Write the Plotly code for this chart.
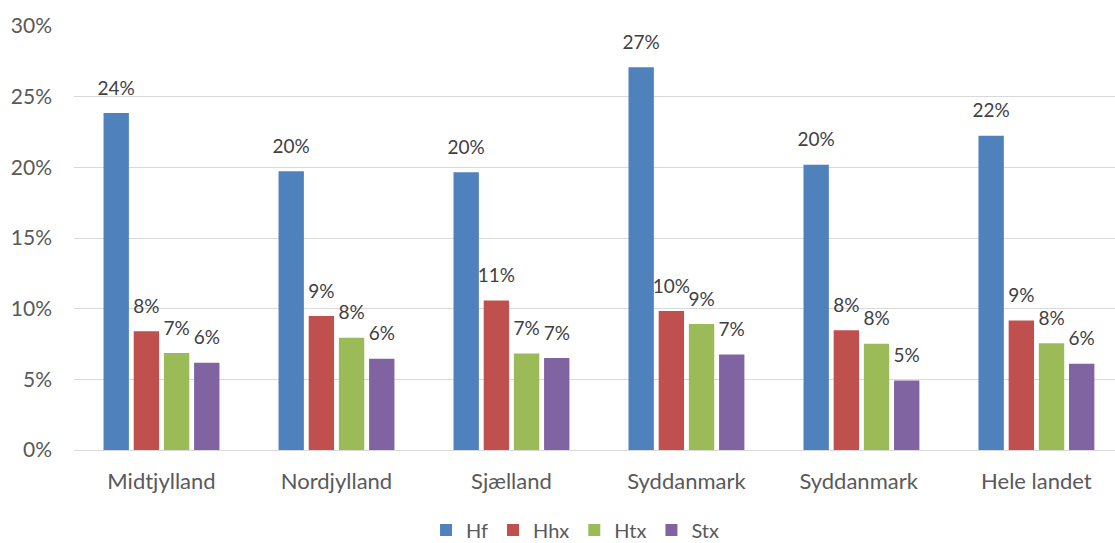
import plotly.graph_objects as go

categories = ["Midtjylland", "Nordjylland", "Sjælland", "Syddanmark", "Syddanmark ", "Hele landet"]
series_names = ["Hf", "Hhx", "Htx", "Stx"]
hf = [23.84, 19.72, 19.65, 27.08, 20.19, 22.24]
hhx = [8.40, 9.48, 10.57, 9.83, 8.47, 9.17]
htx = [6.86, 7.95, 6.82, 8.92, 7.52, 7.55]
stx = [6.18, 6.46, 6.51, 6.75, 4.91, 6.11]
colors = ["#4F81BD", "#C0504D", "#9BBB59", "#8064A2"]
y_ticks = [0, 5, 10, 15, 20, 25, 30]

values = [hf, hhx, htx, stx]
FONT = "Lato"
GAP = 0.31

fig = go.Figure()
for i, (name, vals) in enumerate(zip(series_names, values)):
    fig.add_trace(go.Bar(
        x=categories, y=vals, name=name, offsetgroup=str(i),
        marker=dict(color=colors[i], line=dict(width=0)),
        hoverinfo="skip",
    ))
for i, (name, vals) in enumerate(zip(series_names, values)):
    fig.add_trace(go.Scatter(
        x=categories, y=vals, name=name, offsetgroup=str(i),
        mode="markers+text", text=[f"{round(v + 1e-9):.0f}%" for v in vals],
        textposition="top center",
        textfont=dict(family=FONT, size=19, color="#404040"),
        marker=dict(size=20, opacity=0), showlegend=False, hoverinfo="skip",
        cliponaxis=False,
    ))

fig.update_layout(
    width=1115, height=543,
    margin=dict(l=74, r=0, t=26, b=93),
    paper_bgcolor="white", plot_bgcolor="white",
    barmode="group", bargap=GAP, bargroupgap=0.16,
    scattermode="group", scattergap=GAP,
    font=dict(family=FONT, size=20, color="#595959"),
    showlegend=True,
    legend=dict(orientation="h", x=0.4813, xanchor="center", xref="paper",
                y=0.024, yanchor="middle", yref="container",
                font=dict(size=20, color="#595959"),
                itemwidth=30, traceorder="normal"),
    xaxis=dict(type="category", range=[-0.5, 5.449], showgrid=False,
               showline=True, linecolor="#D9D9D9", linewidth=1,
               ticks="", ticklabelstandoff=12,
               tickfont=dict(size=22, color="#595959")),
    yaxis=dict(range=[0, 30], tickvals=y_ticks, ticktext=[f"{t}%" for t in y_ticks],
               showgrid=True, gridcolor="#D9D9D9", gridwidth=1, zeroline=False,
               showline=False, ticks="", ticklabelstandoff=21,
               tickfont=dict(size=21, color="#595959")),
)

fig.write_html("out.html", config={"displayModeBar": False},
               post_script="document.body.style.margin='0px';")
